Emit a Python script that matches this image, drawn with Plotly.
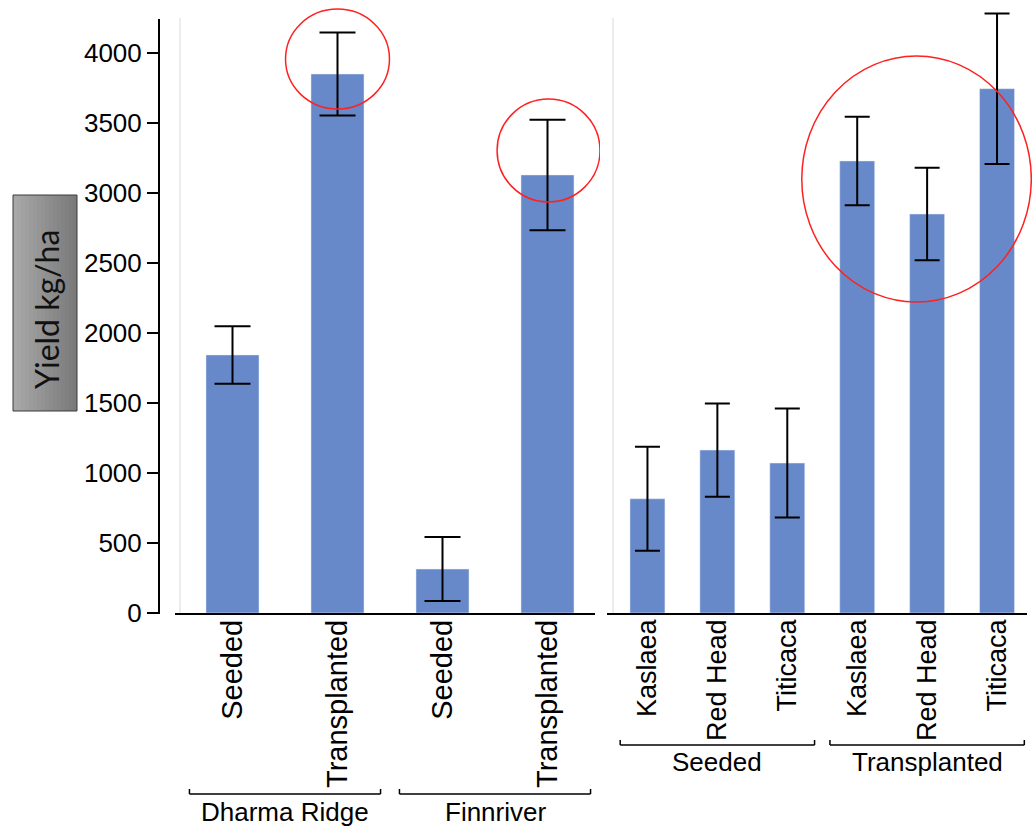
import plotly.graph_objects as go

W, H = 1032, 830

# ---- data ----
left_labels = ["Seeded", "Transplanted", "Seeded", "Transplanted"]
left_groups = ["Dharma Ridge", "Finnriver"]
left_values = [1843, 3850, 314, 3129]
left_err = [205, 297, 228, 395]

right_labels = ["Kaslaea", "Red Head", "Titicaca", "Kaslaea", "Red Head", "Titicaca"]
right_groups = ["Seeded", "Transplanted"]
right_values = [816, 1164, 1071, 3229, 2850, 3745]
right_err = [372, 333, 389, 316, 330, 538]

y_ticks = [0, 500, 1000, 1500, 2000, 2500, 3000, 3500, 4000]

BAR = "#6889C9"
FONT = "Liberation Sans, Arial, sans-serif"

# pixel helpers (layout only)
def px(x):
    return x / W

def py(y):
    return 1 - y / H

Y0_PX = 613          # pixel row of value 0
SCALE = 0.14         # px per unit
y_top = Y0_PX / SCALE

fig = go.Figure()
fig.add_trace(go.Bar(
    x=list(range(len(left_values))), y=left_values,
    marker_color=BAR, width=0.505,
    error_y=dict(type="data", array=left_err, color="black", thickness=2, width=18),
    xaxis="x", yaxis="y", showlegend=False,
))
fig.add_trace(go.Bar(
    x=list(range(len(right_values))), y=right_values,
    marker_color=BAR, width=0.5,
    error_y=dict(type="data", array=right_err, color="black", thickness=2, width=12.5),
    xaxis="x2", yaxis="y", showlegend=False,
))

fig.update_layout(
    width=W, height=H, autosize=False,
    margin=dict(l=0, r=0, t=0, b=0, pad=0, autoexpand=False),
    showlegend=False,
    paper_bgcolor="white", plot_bgcolor="rgba(0,0,0,0)",
    font=dict(family=FONT, size=26, color="black"),
    xaxis=dict(domain=[px(180), px(600)], range=[-0.5, len(left_values) - 0.5],
               tickvals=list(range(len(left_labels))), ticktext=left_labels,
               tickangle=-90, tickfont=dict(size=29), showgrid=False, zeroline=False,
               showline=False, ticks="", anchor="y", automargin=False),
    xaxis2=dict(domain=[px(612.5), 1.0], range=[-0.5, len(right_values) - 0.5],
                tickvals=list(range(len(right_labels))), ticktext=right_labels,
                tickangle=-90, tickfont=dict(size=27), showgrid=False, zeroline=False,
                showline=False, ticks="", anchor="y", automargin=False),
    yaxis=dict(domain=[py(Y0_PX), 1.0], range=[0, y_top], anchor="free", position=px(159),
               tickvals=y_ticks, ticks="outside", ticklen=12, tickwidth=2, tickcolor="black",
               showgrid=False, zeroline=False, showline=False, tickfont=dict(size=26),
               automargin=False),
)

shapes = []
# y axis line
shapes.append(dict(type="line", xref="paper", yref="paper", x0=px(159), x1=px(159),
                   y0=py(19), y1=py(614), line=dict(color="black", width=2)))
# light gray panel edge lines
for gx in (180, 613):
    shapes.append(dict(type="line", xref="paper", yref="paper", x0=px(gx), x1=px(gx),
                       y0=py(18), y1=py(613), line=dict(color="#d9d9d9", width=1)))
# x axis lines
shapes.append(dict(type="line", xref="paper", yref="paper", x0=px(175), x1=px(595),
                   y0=py(614), y1=py(614), line=dict(color="black", width=2)))
shapes.append(dict(type="line", xref="paper", yref="paper", x0=px(607), x1=px(1027),
                   y0=py(614), y1=py(614), line=dict(color="black", width=2)))

annotations = []

def add_groups(xref, groups, n_per, pad, yb, yt):
    for gi, name in enumerate(groups):
        a = gi * n_per - pad
        b = gi * n_per + n_per - 1 + pad
        shapes.append(dict(type="line", xref=xref, yref="paper", x0=a, x1=b,
                           y0=py(yb), y1=py(yb), line=dict(color="black", width=1.5)))
        for xe in (a, b):
            shapes.append(dict(type="line", xref=xref, yref="paper", x0=xe, x1=xe,
                               y0=py(yb), y1=py(yb - 5), line=dict(color="black", width=1.5)))
        annotations.append(dict(xref=xref, yref="paper", x=gi * n_per + (n_per - 1) / 2,
                                y=py(yt), text=name, showarrow=False,
                                font=dict(size=26, family=FONT), xanchor="center",
                                yanchor="middle"))

add_groups("x", left_groups, 2, 0.41, 794, 812)
add_groups("x2", right_groups, 3, 0.39, 745, 762)

# red highlight circles
RED = dict(color="#ff2020", width=1.5)
shapes.append(dict(type="circle", xref="x", yref="y", x0=0.505, x1=1.495, y0=3600, y1=4314, line=RED))
shapes.append(dict(type="circle", xref="x", yref="y", x0=2.52, x1=3.5, y0=2936, y1=3671, line=RED))
shapes.append(dict(type="circle", xref="x2", yref="y", x0=2.207, x1=5.49, y0=2221, y1=3979, line=RED))

# y-axis title box with gradient
bx0, bx1, by0, by1 = 13, 77, 195, 411
n = 16
c0, c1 = 168, 122
for i in range(n):
    g = round(c0 + (c1 - c0) * i / (n - 1))
    col = f"rgb({g},{g},{g})"
    shapes.append(dict(type="rect", xref="paper", yref="paper",
                       x0=px(bx0 + (bx1 - bx0) * i / n), x1=px(bx0 + (bx1 - bx0) * (i + 1) / n),
                       y0=py(by1), y1=py(by0), fillcolor=col, line=dict(width=0)))
shapes.append(dict(type="rect", xref="paper", yref="paper", x0=px(bx0), x1=px(bx1),
                   y0=py(by1), y1=py(by0), line=dict(color="#3a3a3a", width=1)))
annotations.append(dict(xref="paper", yref="paper", x=px(46), y=py(310), text="Yield kg/ha",
                        textangle=-90, showarrow=False, font=dict(size=32, family="Lato, Carlito, sans-serif", color="#111111"),
                        xanchor="center", yanchor="middle"))

fig.update_layout(shapes=shapes, annotations=annotations)
POST = (
    "var s=document.createElement('style');"
    "s.textContent='html,body{margin:0;padding:0;overflow:hidden;}';"
    "document.head.appendChild(s);"
)
fig.write_html("out.html", config={"displayModeBar": False}, post_script=POST)
